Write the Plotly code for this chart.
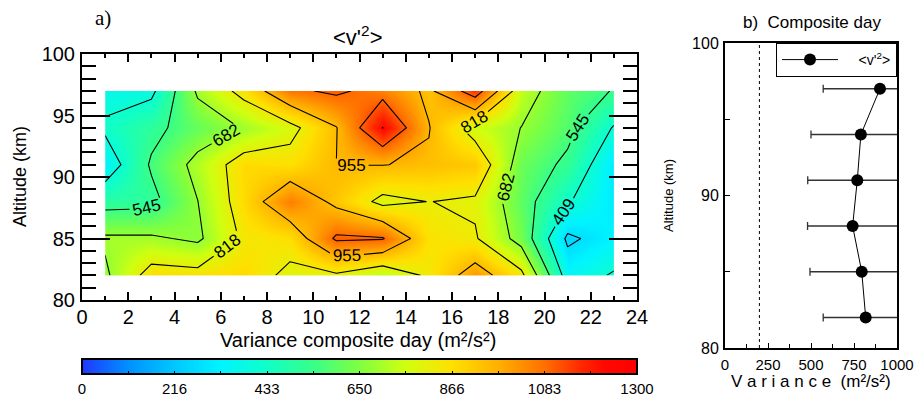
import plotly.graph_objects as go

# ---------------- data ----------------
hours = [1, 3, 5, 7, 9, 11, 13, 15, 17, 19, 21, 23]
altitudes = [82, 85, 88, 91, 94, 97]
# variance <v'^2> (m^2/s^2), rows follow `altitudes`, columns follow `hours`
var_82 = [660, 870, 860, 880, 790, 800, 720, 840, 1020, 850, 350, 420]
var_85 = [700, 700, 660, 840, 866, 1110, 1100, 860, 830, 633, 250, 330]
var_88 = [500, 510, 680, 880, 1060, 924, 785, 820, 800, 600, 420, 300]
var_91 = [330, 560, 720, 880, 866, 955, 957, 940, 920, 620, 520, 300]
var_94 = [430, 510, 610, 690, 780, 950, 1230, 960, 760, 680, 580, 400]
var_97 = [360, 380, 700, 860, 1070, 1110, 1050, 930, 1160, 740, 600, 540]
var_grid = [var_82, var_85, var_88, var_91, var_94, var_97]

# composite-day profile (panel b)
profile_var = [818, 795, 742, 769, 790, 901]
profile_err = [247, 301, 262, 288, 290, 330]
noise_level = 200

cbar_range = [0, 1300]
cbar_tickvals = [0, 108.33, 216.67, 325, 433.33, 541.67, 650, 758.33, 866.67, 975, 1083.33, 1191.67, 1300]
cbar_ticktext = ["0", "", "216", "", "433", "", "650", "", "866", "", "1083", "", "1300"]

rainbow = [
    [0.000, "#2038ff"], [0.083, "#0090ff"], [0.167, "#00c8ff"], [0.250, "#00f4ff"],
    [0.333, "#10ffc8"], [0.417, "#38ff88"], [0.500, "#80ff40"], [0.583, "#d0ff10"],
    [0.667, "#ffe000"], [0.750, "#ffb000"], [0.833, "#ff7000"], [0.900, "#ff2800"],
    [0.940, "#ff0800"], [1.000, "#ff0000"],
]

W, H = 917, 396
def px(x):
    return x / W
def py(y):
    return 1 - y / H

FONT = "Liberation Sans, Arial, sans-serif"
SERIF = "Liberation Serif, Times New Roman, serif"
level_step = 1500 / 11

fig = go.Figure()

fig.add_trace(go.Contour(
    x=hours, y=altitudes, z=var_grid,
    colorscale=rainbow, zmin=cbar_range[0], zmax=cbar_range[1], showscale=False,
    contours=dict(start=level_step, end=level_step * 9 + 1, size=level_step,
                  coloring="heatmap", showlabels=True,
                  labelfont=dict(family=FONT, size=17, color="black"),
                  labelformat=".0f"),
    line=dict(color="black", width=1.1, smoothing=0),
    xaxis="x", yaxis="y", showlegend=False,
))

# colour bar carrier (no visible points)
fig.add_trace(go.Scatter(
    x=[None], y=[None], mode="markers", xaxis="x", yaxis="y", showlegend=False, hoverinfo="skip",
    marker=dict(color=cbar_range, colorscale=rainbow, cmin=cbar_range[0], cmax=cbar_range[1],
                showscale=True,
                colorbar=dict(orientation="h", thickness=15, len=(637 - 82) / W, lenmode="fraction",
                              x=px((82 + 637) / 2), xanchor="center", y=py(359), yanchor="top",
                              ypad=0, xpad=0, outlinecolor="black", outlinewidth=2,
                              tickmode="array", tickvals=cbar_tickvals, ticktext=cbar_ticktext,
                              ticks="inside", ticklen=4, tickcolor="black",
                              tickfont=dict(family=FONT, size=15, color="black"))),
))

fig.add_trace(go.Scatter(
    x=profile_var, y=altitudes, mode="lines+markers",
    marker=dict(size=12, color="black", symbol="circle"),
    line=dict(color="black", width=1),
    error_x=dict(type="data", array=profile_err, symmetric=True, color="#333333", thickness=1.3, width=4),
    name="&nbsp;&nbsp;&nbsp;&nbsp;&lt;v'<sup>2</sup>&gt;",
    xaxis="x2", yaxis="y2", showlegend=True,
))

fig.add_shape(type="line", xref="x2", yref="y2 domain", x0=noise_level, x1=noise_level, y0=0, y1=1,
              line=dict(color="black", width=1, dash="dot"))

axis_common = dict(showline=True, linecolor="black", linewidth=2, mirror="allticks",
                   ticks="inside", tickcolor="black", showgrid=False, zeroline=False,
                   automargin=False)

def label(text, x, y, size, family=FONT, angle=0):
    return dict(text=text, x=px(x), y=py(y), xref="paper", yref="paper", showarrow=False,
                xanchor="center", yanchor="middle", textangle=angle,
                font=dict(family=family, size=size, color="black"))

fig.update_layout(
    width=W, height=H, margin=dict(l=0, r=0, t=0, b=0, autoexpand=False),
    paper_bgcolor="white", plot_bgcolor="white",
    font=dict(family=FONT, color="black"),
    xaxis=dict(domain=[px(82), px(637)], range=[0, 24], anchor="y",
               tickmode="linear", tick0=0, dtick=2, ticklen=8, tickwidth=1.5,
               minor=dict(dtick=1, ticklen=4, ticks="inside", tickcolor="black"),
               tickfont=dict(size=20), ticklabelstandoff=-2,
               **axis_common),
    yaxis=dict(domain=[py(300), py(54)], range=[80, 100], anchor="x",
               tickmode="linear", tick0=80, dtick=5, ticklen=28, tickwidth=1.5,
               minor=dict(dtick=1, ticklen=14, ticks="inside", tickcolor="black"),
               tickfont=dict(size=20), ticklabelstandoff=1,
               **axis_common),
    xaxis2=dict(domain=[px(725), px(897)], range=[0, 1000], anchor="y2",
                tickmode="linear", tick0=0, dtick=250, ticklen=5,
                minor=dict(dtick=125, ticklen=4, ticks="inside", tickcolor="black"),
                tickfont=dict(size=15), ticklabelstandoff=2,
                showline=True, linecolor="black", linewidth=2, mirror=True, automargin=False,
                ticks="inside", tickcolor="black", showgrid=False, zeroline=False),
    yaxis2=dict(domain=[py(348), py(43)], range=[80, 100], anchor="x2",
                tickmode="linear", tick0=80, dtick=10, ticklen=5,
                minor=dict(dtick=5, ticklen=5, ticks="inside", tickcolor="black"),
                tickfont=dict(size=16), ticklabelstandoff=1,
                showline=True, linecolor="black", linewidth=2, mirror=True, automargin=False,
                ticks="inside", tickcolor="black", showgrid=False, zeroline=False),
    legend=dict(x=px(897), xanchor="right", y=py(43), yanchor="top",
                bordercolor="black", borderwidth=1, bgcolor="white",
                font=dict(size=14), itemwidth=56, tracegroupgap=0),
    annotations=[
        label("a)", 103, 18, 21, SERIF),
        label("&lt;v'<sup>2</sup>&gt;", 357, 36, 22),
        label("b)  Composite day", 812, 22, 17),
        label("Variance composite day (m²/s²)", 358, 340, 20),
        label("Altitude (km)", 20, 177, 18, angle=-90),
        label("V a r i a n c e  (m²/s²)", 811, 381, 17),
        label("Altitude (km)", 668, 196, 13, angle=-90),
    ],
)

fig.write_html("out.html")
